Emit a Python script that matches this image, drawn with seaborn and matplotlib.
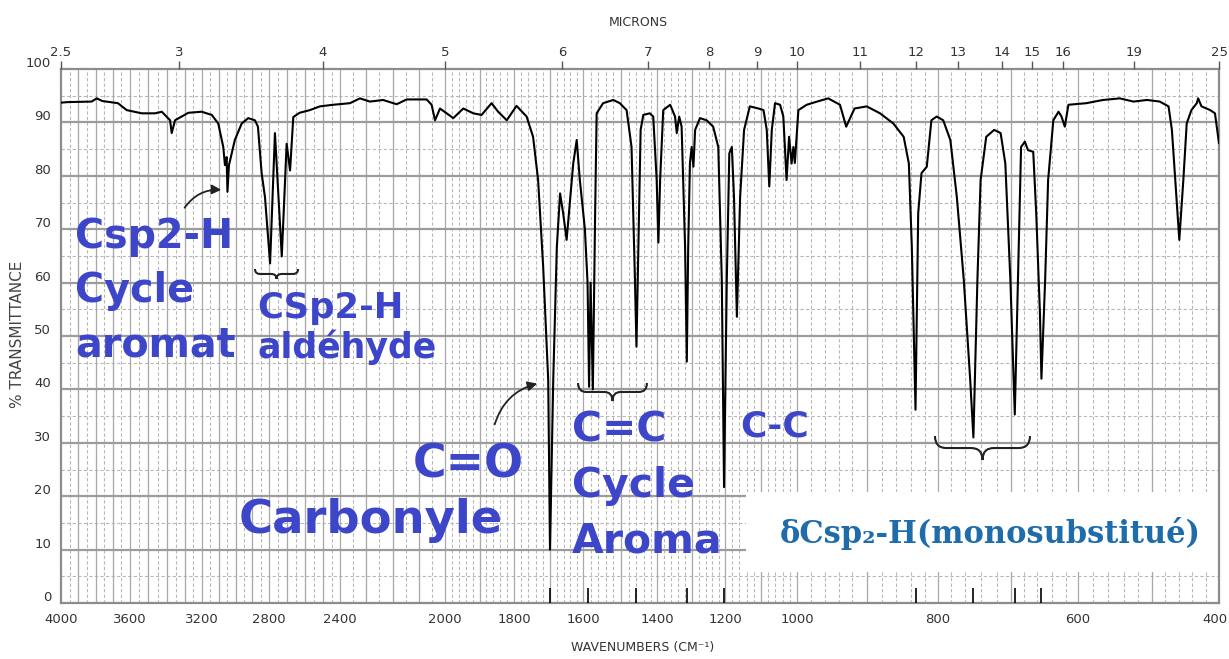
import numpy as np
import pandas as pd
import matplotlib
matplotlib.use("Agg")
import matplotlib.pyplot as plt
import seaborn as sns
from matplotlib import font_manager
from matplotlib.path import Path
from matplotlib.patches import PathPatch, Rectangle
from matplotlib.ticker import FixedLocator
from matplotlib.transforms import ScaledTranslation

wavenumber = [
    4000, 3960, 3822, 3793, 3760, 3670, 3619, 3536, 3464, 3427, 3382, 3373, 3355,
    3279, 3202, 3142, 3103, 3073, 3063, 3053, 3048, 3039, 3004, 2963, 2924, 2884,
    2866, 2844, 2824, 2794, 2767, 2729, 2702, 2683, 2665, 2630, 2573, 2517, 2441,
    2362, 2324, 2286, 2236, 2184, 2146, 2070, 2051, 2038, 2019, 1995, 1976, 1947,
    1918, 1894, 1865, 1846, 1821, 1793, 1765, 1747, 1733, 1719, 1705, 1700, 1691,
    1681, 1672, 1663, 1652, 1641, 1631, 1620, 1610, 1595, 1588, 1584, 1580, 1574,
    1568, 1564, 1547, 1520, 1503, 1485, 1472, 1463, 1459, 1454, 1448, 1441, 1423,
    1412, 1401, 1396, 1391, 1382, 1362, 1348, 1343, 1336, 1329, 1319, 1314, 1310,
    1305, 1300, 1295, 1290, 1276, 1257, 1237, 1221, 1210, 1203, 1195, 1188, 1181,
    1175, 1167, 1158, 1147, 1131, 1107, 1093, 1084, 1077, 1070, 1061, 1047, 1038,
    1029, 1022, 1015, 1010, 1006, 998, 986, 971, 955, 938, 929, 917, 900, 882,
    864, 850, 843, 839, 834, 830, 825, 817, 810, 802, 792, 781, 771, 762, 754,
    750, 745, 741, 734, 724, 716, 709, 701, 694, 689, 684, 678, 673, 665, 661,
    656, 654, 649, 645, 638, 631, 627, 622, 616, 589, 567, 545, 527, 507, 488,
    475, 470, 465, 459, 453, 448, 441, 433, 431, 426, 413, 406, 400,
]
transmittance = [
    93.7, 93.8, 93.9, 94.5, 94.0, 93.6, 92.3, 91.7, 91.7, 92.0, 90.4, 88.0, 90.4,
    91.8, 92.0, 91.4, 89.8, 85.4, 82.0, 83.5, 77.0, 82.0, 86.7, 89.8, 90.8, 90.4,
    89.2, 80.5, 76.0, 63.6, 88.0, 64.9, 86.0, 81.0, 91.0, 91.8, 92.3, 93.0, 93.3,
    93.6, 94.5, 93.9, 94.2, 93.4, 94.3, 94.3, 93.3, 90.4, 92.6, 91.7, 90.8, 92.6,
    91.7, 91.4, 93.6, 92.0, 90.4, 93.1, 91.1, 87.3, 79.2, 63.0, 41.8, 10.0, 41.8,
    66.7, 76.7, 73.0, 68.0, 75.5, 82.3, 86.7, 79.2, 70.0, 60.0, 40.5, 60.0, 40.0,
    73.0, 91.7, 93.6, 94.2, 93.6, 92.3, 85.4, 60.5, 48.0, 66.7, 88.6, 91.4, 91.7,
    91.1, 79.2, 67.5, 79.2, 92.3, 93.3, 91.1, 88.0, 91.1, 89.2, 66.7, 45.2, 66.7,
    82.4, 85.4, 81.7, 88.6, 90.8, 90.4, 89.2, 85.4, 60.5, 21.7, 60.5, 84.2, 85.4,
    76.0, 53.6, 76.0, 88.6, 93.0, 92.6, 92.3, 88.6, 78.0, 88.6, 93.6, 93.3, 91.1,
    79.2, 87.3, 82.3, 85.4, 82.4, 92.3, 93.3, 93.9, 94.5, 93.3, 89.2, 92.6, 93.0,
    91.7, 89.8, 87.3, 82.3, 66.7, 36.2, 73.0, 80.5, 81.7, 90.4, 91.1, 90.4, 86.7,
    76.0, 60.5, 41.8, 31.0, 60.5, 79.2, 87.3, 88.6, 88.0, 82.3, 60.5, 35.3, 60.5,
    85.4, 86.4, 84.8, 84.5, 73.0, 54.3, 42.0, 60.5, 79.2, 90.4, 92.0, 91.1, 89.2,
    93.3, 93.6, 94.2, 94.5, 93.9, 94.2, 93.9, 93.0, 88.6, 79.2, 68.0, 79.2, 89.8,
    92.3, 93.6, 94.5, 93.0, 92.3, 91.7, 86.1,
]

wn_ticks = [4000, 3600, 3200, 2800, 2400, 2000, 1800, 1600, 1400, 1200, 1000, 800, 600, 400]
micron_ticks = [2.5, 3, 4, 5, 6, 7, 8, 9, 10, 11, 12, 13, 14, 15, 16, 19, 25]
peak_marks = [1700, 1588, 1459, 1314, 1203, 834, 750, 694, 654]

# le papier scanne n'est pas lineaire en cm-1 : calibration colonne -> nombre d'onde
cal_wn = np.array([4000, 3600, 10000 / 3, 3200, 2800, 2500, 2400, 2000, 1800, 10000 / 6,
                   1600, 10000 / 7, 1400, 1250, 1200, 10000 / 9, 1000, 10000 / 11,
                   10000 / 12, 800, 10000 / 13, 10000 / 14, 10000 / 15, 625, 600,
                   10000 / 19, 400])
cal_px = np.array([61, 130, 179, 202, 269, 323, 340, 445, 514, 562, 583, 648, 657, 709,
                   725, 757, 797, 860, 916, 938, 958, 1002, 1032, 1063, 1078, 1134, 1219])


def fwd(w):
    return np.interp(w, cal_wn[::-1], -cal_px[::-1])


def inv(p):
    return np.interp(p, -cal_px[::-1], cal_wn[::-1])


sns.set_theme(style="white")
plt.rcParams["font.family"] = ["DejaVu Sans"]

installed = {f.name for f in font_manager.fontManager.ttflist}
if "Liberation Sans Narrow" in installed:
    tick_font, tick_size = "Liberation Sans Narrow", 12.5
else:
    tick_font, tick_size = "DejaVu Sans", 9.5

bleu = "#3d45c9"
bleu_serif = "#1f6cab"

fig = plt.figure(figsize=(12.29, 6.59), dpi=100)
ax = fig.add_axes([61 / 1229, 1 - 603 / 659, 1158 / 1229, 534 / 659])

df = pd.DataFrame({"wavenumber": wavenumber, "transmittance": transmittance})
sns.lineplot(data=df, x="wavenumber", y="transmittance", ax=ax, color="black",
             linewidth=1.5, sort=False, estimator=None, zorder=3)

ax.set_xscale("function", functions=(fwd, inv))
ax.set_xlim(4000, 400)
ax.set_ylim(0, 100)

# grille du papier
minor_x = np.r_[np.arange(2050, 4000, 50), np.arange(1020, 2000, 20), np.arange(420, 1000, 20)]
ax.xaxis.set_minor_locator(FixedLocator(minor_x))
ax.yaxis.set_minor_locator(FixedLocator(np.arange(5, 100, 10)))
ax.grid(False, which="major")
ax.grid(True, which="minor", color="#b8b8b8", linestyle=(0, (3, 2)), linewidth=0.8)
for w in np.arange(500, 4000, 100):
    ax.axvline(w, color="#a9a9a9", lw=0.9, zorder=1)
for t in range(10, 100, 10):
    ax.axhline(t, color="#9c9c9c", lw=1.6, zorder=1)
ax.set_axisbelow(True)

# traits de repere des bandes en bas
ax.vlines(peak_marks, 0, 2.8, colors="black", lw=1.2, zorder=3)

ax.set_xticks(wn_ticks)
ax.set_xticklabels([str(w) for w in wn_ticks])
ax.set_yticks(range(0, 101, 10))
ax.set_xlabel("")
ax.set_ylabel("")
ax.tick_params(axis="x", which="major", length=0, pad=7, labelsize=tick_size, labelcolor="#333333")
ax.tick_params(axis="y", which="major", length=0, pad=7, labelsize=tick_size, labelcolor="#333333")
ax.tick_params(which="minor", length=0)
for lab in ax.get_xticklabels() + ax.get_yticklabels():
    lab.set_fontfamily(tick_font)
up = ScaledTranslation(0, 7 / 100, fig.dpi_scale_trans)
for lab in ax.get_yticklabels():
    lab.set_transform(lab.get_transform() + up)
# le dernier libelle (400) colle au bord droit
last = ax.get_xticklabels()[-1]
last.set_horizontalalignment("right")
last.set_transform(last.get_transform() + ScaledTranslation(8 / 100, 0, fig.dpi_scale_trans))

for s in ax.spines.values():
    s.set_color("#8c8c8c")
    s.set_linewidth(1.6)

# echelle en microns en haut
ax_top = ax.twiny()
ax_top.set_xscale("function", functions=(fwd, inv))
ax_top.set_xlim(4000, 400)
ax_top.set_xticks([10000 / m for m in micron_ticks])
ax_top.set_xticklabels([str(m) for m in micron_ticks])
ax_top.tick_params(axis="x", length=6, width=1, color="#555555", pad=1,
                   labelsize=tick_size, labelcolor="#333333")
for lab in ax_top.get_xticklabels():
    lab.set_fontfamily(tick_font)
for s in ax_top.spines.values():
    s.set_visible(False)
ax_top.grid(False)

fig.text(18 / 1229, 1 - 334 / 659, "% TRANSMITTANCE", rotation=90, ha="center", va="center",
         fontsize=11, color="#444444")
fig.text(643 / 1229, 1 - 648 / 659, "WAVENUMBERS (CM⁻¹)", ha="center", va="center",
         fontsize=9, color="#333333")
fig.text(638 / 1229, 1 - 23 / 659, "MICRONS", ha="center", va="center",
         fontsize=9, color="#333333")

# encadre blanc sous le texte serif
ax.add_patch(Rectangle((0.5915, 0.058), 0.4085, 0.150, transform=ax.transAxes,
                       facecolor="white", edgecolor="none", zorder=2))

tx = dict(transform=ax.transAxes, ha="left", va="baseline", color=bleu,
          fontweight="bold", zorder=4)
ax.text(0.0121, 0.6648, "Csp2-H", fontsize=28.5, **tx)
ax.text(0.0121, 0.5637, "Cycle", fontsize=28.5, **tx)
ax.text(0.0121, 0.4607, "aromat", fontsize=28.5, **tx)
ax.text(0.1693, 0.5337, "CSp2-H", fontsize=25.5, **tx)
ax.text(0.1693, 0.4588, "aldéhyde", fontsize=25, **tx)
ax.text(0.304, 0.2341, "C=O", fontsize=33, **tx)
ax.text(0.1537, 0.1311, "Carbonyle", fontsize=33.5, **tx)
ax.text(0.4413, 0.3015, "C=C", fontsize=29.5, **tx)
ax.text(0.4413, 0.1985, "Cycle", fontsize=29.5, **tx)
ax.text(0.4413, 0.0955, "Aroma", fontsize=29.5, **tx)
ax.text(0.5864, 0.3109, "C-C", fontsize=26, **tx)
ax.text(0.6209, 0.1124, "δCsp₂-H(monosubstitué)", transform=ax.transAxes, ha="left",
        va="baseline", color=bleu_serif, fontweight="bold", fontsize=22,
        family=["DejaVu Serif"], zorder=4)

# fleches
arrow = dict(arrowstyle="-|>", color="#222222", lw=1.3, mutation_scale=14,
             connectionstyle="arc3,rad=-0.3")
ax.annotate("", xy=(0.1408, 0.7734), xytext=(0.1054, 0.736),
            xycoords="axes fraction", textcoords="axes fraction", arrowprops=arrow, zorder=4)
ax.annotate("", xy=(0.4136, 0.412), xytext=(0.3739, 0.3296),
            xycoords="axes fraction", textcoords="axes fraction", arrowprops=arrow, zorder=4)


def accolade(ax, x0, x1, ytop, h):
    ym = ytop - h / 2
    yb = ytop - h
    xc = (x0 + x1) / 2
    r = (x1 - x0) * 0.12
    verts = [(x0, ytop), (x0, ym), (x0 + r, ym), (xc - r, ym), (xc, ym), (xc, yb),
             (xc, ym), (xc + r, ym), (x1 - r, ym), (x1, ym), (x1, ytop)]
    codes = [Path.MOVETO, Path.CURVE3, Path.CURVE3, Path.LINETO, Path.CURVE3, Path.CURVE3,
             Path.CURVE3, Path.CURVE3, Path.LINETO, Path.CURVE3, Path.CURVE3]
    ax.add_patch(PathPatch(Path(verts, codes), transform=ax.transAxes, fill=False,
                           edgecolor="#222222", lw=1.5, zorder=4))


accolade(ax, 0.1675, 0.2047, 0.6255, 0.0187)
accolade(ax, 0.4465, 0.506, 0.412, 0.0337)
accolade(ax, 0.7547, 0.8368, 0.3127, 0.045)

fig.savefig("out.png", dpi=100)
